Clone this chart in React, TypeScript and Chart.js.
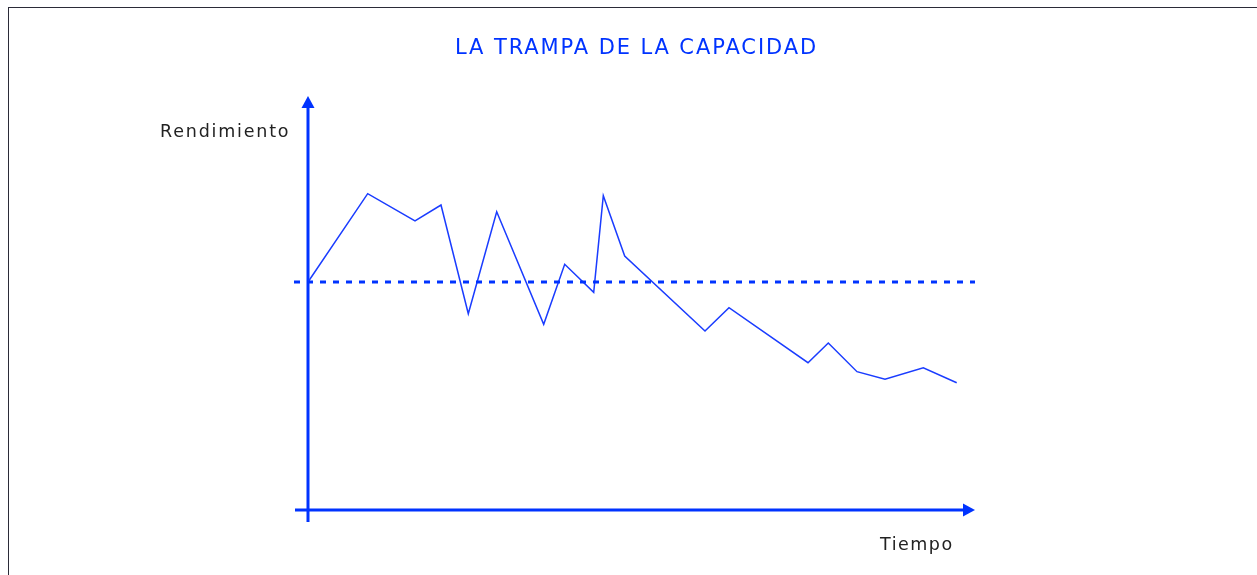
import React, { useEffect, useRef } from "react";
import { Chart, registerables } from "chart.js";

Chart.register(...registerables);

// Time (x) and performance (y) values of the curve
const timeValues = [0, 5.97, 10.7, 13.3, 16.03, 18.87, 23.57, 25.67, 28.57, 29.53, 31.67, 39.7, 42.1, 50.0, 52.03, 54.9, 57.7, 61.53, 64.87];
const performanceValues = [22.8, 31.63, 28.9, 30.5, 19.63, 29.83, 18.57, 24.57, 21.77, 31.43, 25.4, 17.9, 20.23, 14.73, 16.7, 13.83, 13.07, 14.23, 12.73];

// Dashed reference level
const thresholdValue = 22.8;
const thresholdRange = [-1.4, 66.7];

// Axis extents (arrow tips) in data units
const xAxisRange = [-1.3, 66.7];
const yAxisRange = [-1.2, 41.4];

const titleText = "LA TRAMPA DE LA CAPACIDAD";
const yLabel = "Rendimiento";
const xLabel = "Tiempo";

const BLUE = "#0033ff";

const arrowAxesPlugin = {
  id: "arrowAxes",
  beforeDatasetsDraw(chart: any) {
    const { ctx, scales } = chart;
    const xs = scales.x;
    const ys = scales.y;
    const x0 = xs.getPixelForValue(0);
    const y0 = ys.getPixelForValue(0);
    const arrowLen = 12;
    const arrowHalf = 6.5;
    ctx.save();
    ctx.strokeStyle = BLUE;
    ctx.fillStyle = BLUE;
    ctx.lineWidth = 3;
    // y axis
    const yBottom = ys.getPixelForValue(yAxisRange[0]);
    const yTip = ys.getPixelForValue(yAxisRange[1]);
    ctx.beginPath();
    ctx.moveTo(x0, yBottom);
    ctx.lineTo(x0, yTip + arrowLen);
    ctx.stroke();
    ctx.beginPath();
    ctx.moveTo(x0, yTip);
    ctx.lineTo(x0 - arrowHalf, yTip + arrowLen);
    ctx.lineTo(x0 + arrowHalf, yTip + arrowLen);
    ctx.closePath();
    ctx.fill();
    // x axis
    const xLeft = xs.getPixelForValue(xAxisRange[0]);
    const xTip = xs.getPixelForValue(xAxisRange[1]);
    ctx.beginPath();
    ctx.moveTo(xLeft, y0);
    ctx.lineTo(xTip - arrowLen, y0);
    ctx.stroke();
    ctx.beginPath();
    ctx.moveTo(xTip, y0);
    ctx.lineTo(xTip - arrowLen, y0 - arrowHalf);
    ctx.lineTo(xTip - arrowLen, y0 + arrowHalf);
    ctx.closePath();
    ctx.fill();
    ctx.restore();
  },
};

export default function App() {
  const canvasRef = useRef<HTMLCanvasElement | null>(null);

  useEffect(() => {
    if (!canvasRef.current) return;
    const curve = timeValues.map((t, i) => ({ x: t, y: performanceValues[i] }));
    const threshold = thresholdRange.map((t) => ({ x: t, y: thresholdValue }));
    const chart = new Chart(canvasRef.current, {
      type: "scatter",
      data: {
        datasets: [
          {
            data: threshold,
            showLine: true,
            borderColor: BLUE,
            borderWidth: 3,
            borderDash: [6, 7],
            pointRadius: 0,
          },
          {
            data: curve,
            showLine: true,
            borderColor: "#1a3cff",
            borderWidth: 1.5,
            pointRadius: 0,
            tension: 0,
          },
        ],
      },
      options: {
        responsive: false,
        animation: false,
        layout: { padding: { left: 290, right: 277, top: 90, bottom: 47 } },
        plugins: { legend: { display: false }, title: { display: false }, tooltip: { enabled: false } },
        scales: {
          x: { type: "linear", display: false, min: -1.8, max: 67.2 },
          y: { type: "linear", display: false, min: -1.8, max: 42 },
        },
      },
      plugins: [arrowAxesPlugin],
    });
    return () => chart.destroy();
  }, []);

  const font = "'DejaVu Sans', sans-serif";
  return (
    <div style={{ position: "fixed", left: 0, top: 0, width: 1257, height: 575, overflow: "hidden", background: "#fff" }}>
      <div style={{ position: "absolute", left: 8, top: 7, right: 0, bottom: 0, borderTop: "1px solid #2b2b38", borderLeft: "1px solid #2b2b38" }} />
      <canvas ref={canvasRef} width={1257} height={575} style={{ position: "absolute", left: 0, top: 0, width: 1257, height: 575 }} />
      <div style={{ position: "absolute", left: 455, top: 33, whiteSpace: "nowrap", fontFamily: font, fontSize: 21, color: BLUE, lineHeight: "28px", letterSpacing: 1.9 }}>{titleText}</div>
      <div style={{ position: "absolute", left: 160, top: 119, whiteSpace: "nowrap", fontFamily: font, fontSize: 17.5, color: "#222", lineHeight: "24px", letterSpacing: 1.8 }}>{yLabel}</div>
      <div style={{ position: "absolute", left: 880, top: 532, whiteSpace: "nowrap", fontFamily: font, fontSize: 17.5, color: "#222", lineHeight: "24px", letterSpacing: 1.5 }}>{xLabel}</div>
    </div>
  );
}
